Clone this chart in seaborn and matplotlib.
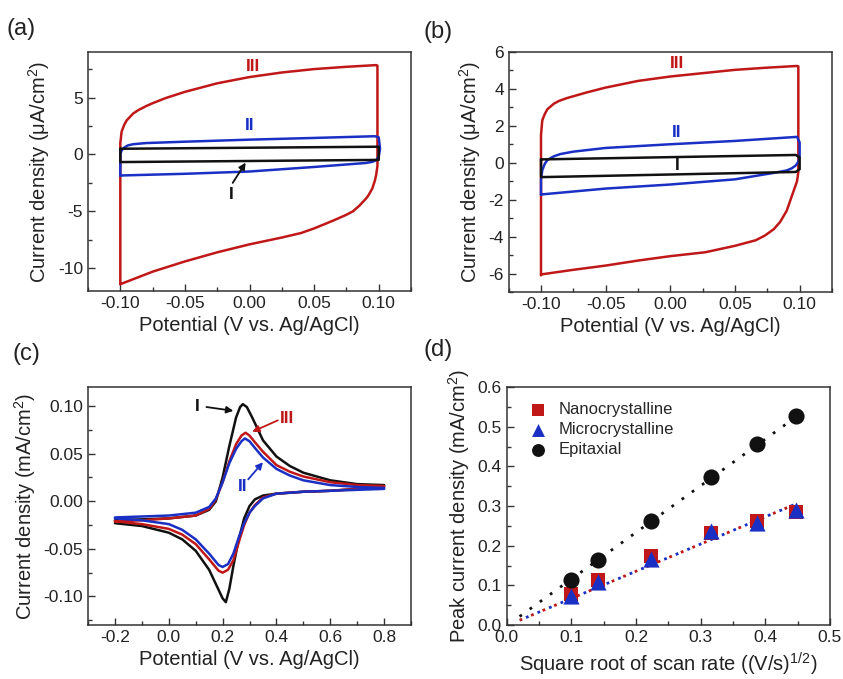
import numpy as np
import pandas as pd
import seaborn as sns
import matplotlib
matplotlib.use('Agg')
import matplotlib.pyplot as plt
from matplotlib.ticker import MultipleLocator, FormatStrFormatter

# ---- panel (a): CV loops, uA/cm2 ----
a1_x = [-0.1, 0.1, 0.1, -0.1, -0.1]
a1_y = [0.5, 0.68, -0.48, -0.67, 0.5]
a2_x = [-0.1, -0.1, -0.099, -0.097, -0.094, -0.09, -0.08, -0.05, 0.0, 0.05, 0.097, 0.1, 0.101, 0.1,
        0.098, 0.095, 0.09, 0.05, 0.0, -0.05, -0.1]
a2_y = [-1.85, 0.0, 0.35, 0.6, 0.8, 0.9, 1.0, 1.12, 1.3, 1.45, 1.6, 1.5, 0.5, -0.2,
        -0.5, -0.65, -0.75, -1.1, -1.5, -1.7, -1.85]
a3_x = [-0.1, -0.1, -0.099, -0.097, -0.095, -0.09, -0.086, -0.08, -0.075, -0.065, -0.05, -0.025,
        0.0, 0.025, 0.05, 0.075, 0.098, 0.099, 0.099, 0.098, 0.097, 0.095, 0.092, 0.09, 0.085,
        0.08, 0.075, 0.065, 0.05, 0.04, 0.025, 0.0, -0.025, -0.05, -0.075, -0.1]
a3_y = [-11.4, 1.0, 2.0, 2.6, 3.0, 3.6, 3.9, 4.25, 4.5, 4.95, 5.5, 6.25,
        6.8, 7.2, 7.5, 7.7, 7.85, 7.8, -1.0, -1.8, -2.3, -3.0, -3.6, -3.9, -4.5,
        -5.0, -5.3, -5.8, -6.5, -6.9, -7.3, -7.9, -8.6, -9.4, -10.3, -11.4]

# ---- panel (b) ----
b1_x = [-0.1, 0.097, 0.1, 0.1, 0.097, -0.1, -0.1]
b1_y = [0.18, 0.42, 0.3, -0.35, -0.5, -0.78, 0.18]
b2_x = [-0.1, -0.1, -0.099, -0.097, -0.095, -0.09, -0.085, -0.075, -0.05, 0.0, 0.05, 0.098, 0.1,
        0.1, 0.099, 0.097, 0.094, 0.09, 0.08, 0.05, 0.0, -0.05, -0.1]
b2_y = [-1.72, -0.9, -0.4, -0.05, 0.15, 0.35, 0.47, 0.6, 0.8, 1.0, 1.18, 1.4, 1.1,
        0.4, 0.05, -0.15, -0.3, -0.42, -0.55, -0.9, -1.18, -1.4, -1.72]
b3_x = [-0.1, -0.1, -0.099, -0.097, -0.095, -0.09, -0.086, -0.08, -0.075, -0.065, -0.05, -0.025,
        0.0, 0.025, 0.05, 0.075, 0.098, 0.099, 0.099, 0.098, 0.096, 0.094, 0.092, 0.09, 0.085,
        0.08, 0.073, 0.066, 0.05, 0.027, 0.0, -0.025, -0.05, -0.075, -0.1]
b3_y = [-6.1, 1.5, 2.3, 2.65, 2.9, 3.2, 3.35, 3.5, 3.6, 3.8, 4.07, 4.43,
        4.67, 4.85, 5.03, 5.15, 5.24, 5.22, -0.5, -1.0, -1.4, -1.8, -2.2, -2.6, -3.2,
        -3.6, -3.95, -4.2, -4.5, -4.85, -5.06, -5.3, -5.57, -5.8, -6.05]

# ---- panel (c): CVs in mA/cm2 (forward sweep then reverse) ----
c1_x = [-0.2, -0.1, 0.0, 0.1, 0.15, 0.175, 0.2, 0.225, 0.25, 0.265, 0.275, 0.29, 0.31, 0.35, 0.4,
        0.45, 0.5, 0.6, 0.7, 0.8,
        0.8, 0.7, 0.6, 0.5, 0.4, 0.35, 0.32, 0.3, 0.28, 0.26, 0.24, 0.225, 0.212, 0.2, 0.18, 0.15,
        0.1, 0.05, 0.0, -0.1, -0.2]
c1_y = [-0.020, -0.019, -0.018, -0.015, -0.009, 0.0, 0.025, 0.058, 0.088, 0.099, 0.102, 0.099,
        0.088, 0.064, 0.047, 0.037, 0.030, 0.022, 0.018, 0.017,
        0.016, 0.013, 0.011, 0.010, 0.008, 0.006, 0.002, -0.005, -0.018, -0.040, -0.068, -0.092,
        -0.106, -0.102, -0.090, -0.072, -0.052, -0.040, -0.033, -0.026, -0.023]
c2_x = [-0.2, -0.1, 0.0, 0.1, 0.15, 0.175, 0.2, 0.225, 0.25, 0.27, 0.283, 0.3, 0.32, 0.35, 0.4,
        0.45, 0.5, 0.6, 0.7, 0.8,
        0.8, 0.7, 0.6, 0.5, 0.4, 0.35, 0.32, 0.3, 0.28, 0.26, 0.24, 0.22, 0.2, 0.185, 0.15,
        0.1, 0.05, 0.0, -0.1, -0.2]
c2_y = [-0.017, -0.016, -0.015, -0.012, -0.006, 0.003, 0.02, 0.04, 0.055, 0.063, 0.066, 0.063,
        0.056, 0.046, 0.034, 0.027, 0.022, 0.017, 0.015, 0.014,
        0.013, 0.012, 0.011, 0.010, 0.008, 0.003, -0.005, -0.012, -0.023, -0.038, -0.055, -0.066,
        -0.069, -0.067, -0.055, -0.040, -0.030, -0.024, -0.020, -0.018]
c3_x = [-0.2, -0.1, 0.0, 0.1, 0.15, 0.175, 0.2, 0.225, 0.25, 0.27, 0.285, 0.3, 0.32, 0.35, 0.4,
        0.45, 0.5, 0.6, 0.7, 0.8,
        0.8, 0.7, 0.6, 0.5, 0.4, 0.35, 0.32, 0.3, 0.28, 0.26, 0.24, 0.22, 0.2, 0.185, 0.15,
        0.1, 0.05, 0.0, -0.1, -0.2]
c3_y = [-0.021, -0.020, -0.018, -0.015, -0.008, 0.002, 0.02, 0.042, 0.06, 0.069, 0.072, 0.069,
        0.062, 0.052, 0.038, 0.031, 0.026, 0.020, 0.017, 0.016,
        0.015, 0.013, 0.011, 0.010, 0.008, 0.004, -0.004, -0.012, -0.025, -0.043, -0.062, -0.072,
        -0.075, -0.073, -0.061, -0.045, -0.035, -0.029, -0.024, -0.021]

# ---- panel (d): peak current vs sqrt(scan rate) ----
sqrt_rate = [0.1, 0.1414, 0.2236, 0.3162, 0.3873, 0.4472]
nano_ip = [0.0775, 0.114, 0.173, 0.233, 0.263, 0.284]
micro_ip = [0.074, 0.108, 0.166, 0.237, 0.257, 0.29]
epi_ip = [0.114, 0.164, 0.263, 0.374, 0.456, 0.528]
fit_x = [0.02, 0.447]
fit_epi = [0.0215, 0.524]
fit_nano = [0.012, 0.305]

RED = '#c01818'
BLUE = '#1a2fc4'
BLK = '#111111'

sns.set_style('ticks')
plt.rcParams['font.family'] = ['Liberation Sans', 'DejaVu Sans']
plt.rcParams['mathtext.fontset'] = 'custom'
plt.rcParams['mathtext.rm'] = 'Liberation Sans'
plt.rcParams['mathtext.it'] = 'Liberation Sans'
plt.rcParams['axes.unicode_minus'] = False
plt.rcParams['axes.edgecolor'] = '#333333'
plt.rcParams['axes.linewidth'] = 1.1

fig = plt.figure(figsize=(8.43, 6.79), dpi=100)
ax_a = fig.add_axes([0.1044, 0.5714, 0.3832, 0.352])
ax_b = fig.add_axes([0.6034, 0.570, 0.3835, 0.3535])
ax_c = fig.add_axes([0.1044, 0.0795, 0.3832, 0.3505])
ax_d = fig.add_axes([0.601, 0.0795, 0.3835, 0.3505])

def loop(ax, x, y, color):
    sns.lineplot(x=x, y=y, sort=False, estimator=None, color=color, lw=1.8, ax=ax)

def style(ax, xmaj, ymaj, xfmt, yfmt, xlabel, ylabel):
    ax.xaxis.set_major_locator(MultipleLocator(xmaj))
    ax.xaxis.set_minor_locator(MultipleLocator(xmaj / 2))
    ax.yaxis.set_major_locator(MultipleLocator(ymaj))
    ax.yaxis.set_minor_locator(MultipleLocator(ymaj / 2))
    if xfmt:
        ax.xaxis.set_major_formatter(FormatStrFormatter(xfmt))
    if yfmt:
        ax.yaxis.set_major_formatter(FormatStrFormatter(yfmt))
    ax.tick_params(which='both', direction='in', top=False, right=False,
                   labelsize=12.5, colors='#333333', labelcolor='#222222')
    ax.tick_params(which='major', length=5, width=1)
    ax.tick_params(which='minor', length=3, width=1)
    ax.set_xlabel(xlabel, fontsize=14.5, color='#222222')
    ax.set_ylabel(ylabel, fontsize=14.5, color='#222222')

arr = dict(arrowstyle='-|>', lw=1.3, shrinkA=0, shrinkB=0, mutation_scale=10)
lab = dict(fontsize=12.5, fontweight='bold', ha='center', va='center')

# (a)
loop(ax_a, a3_x, a3_y, RED)
loop(ax_a, a2_x, a2_y, BLUE)
loop(ax_a, a1_x, a1_y, BLK)
ax_a.set_xlim(-0.125, 0.125)
ax_a.set_ylim(-12, 9)
style(ax_a, 0.05, 5, '%.2f', None, 'Potential (V vs. Ag/AgCl)', 'Current density (μA/cm$^2$)')
ax_a.text(0.003, 7.75, 'III', color=RED, **lab)
ax_a.text(0.0, 2.5, 'II', color=BLUE, **lab)
ax_a.text(-0.014, -3.5, 'I', color=BLK, **lab)
ax_a.annotate('', xy=(-0.003, -0.72), xytext=(-0.013, -2.5), arrowprops=dict(arr, color=BLK))

# (b)
loop(ax_b, b3_x, b3_y, RED)
loop(ax_b, b2_x, b2_y, BLUE)
loop(ax_b, b1_x, b1_y, BLK)
ax_b.set_xlim(-0.125, 0.125)
ax_b.set_ylim(-7, 6)
style(ax_b, 0.05, 2, '%.2f', None, 'Potential (V vs. Ag/AgCl)', 'Current density (μA/cm$^2$)')
ax_b.text(0.005, 5.35, 'III', color=RED, **lab)
ax_b.text(0.005, 1.63, 'II', color=BLUE, **lab)
ax_b.text(0.005, -0.13, 'I', color=BLK, **lab)

# (c)
loop(ax_c, c1_x, c1_y, BLK)
loop(ax_c, c3_x, c3_y, RED)
loop(ax_c, c2_x, c2_y, BLUE)
ax_c.set_xlim(-0.3, 0.9)
ax_c.set_ylim(-0.13, 0.12)
style(ax_c, 0.2, 0.05, '%.1f', '%.2f', 'Potential (V vs. Ag/AgCl)', 'Current density (mA/cm$^2$)')
ax_c.text(0.106, 0.1, 'I', color=BLK, **lab)
ax_c.annotate('', xy=(0.24, 0.095), xytext=(0.14, 0.099), arrowprops=dict(arr, color=BLK))
ax_c.text(0.44, 0.087, 'III', color=RED, **lab)
ax_c.annotate('', xy=(0.31, 0.073), xytext=(0.405, 0.085), arrowprops=dict(arr, color=RED))
ax_c.text(0.276, 0.0157, 'II', color=BLUE, **lab)
ax_c.annotate('', xy=(0.35, 0.041), xytext=(0.295, 0.023), arrowprops=dict(arr, color=BLUE))

# (d)
dot = (0, (1, 3.5))
ax_d.plot(fit_x, fit_epi, color=BLK, lw=2, linestyle=dot)
ax_d.plot(fit_x, fit_nano, color=RED, lw=2, linestyle=dot)
ax_d.plot(fit_x, fit_nano, color=BLUE, lw=2, linestyle=(2, (1, 3.5)))
sns.scatterplot(x=sqrt_rate, y=nano_ip, marker='s', s=105, color=RED, linewidth=0,
                label='Nanocrystalline', ax=ax_d, zorder=3)
sns.scatterplot(x=sqrt_rate, y=micro_ip, marker='^', s=135, color=BLUE, linewidth=0,
                label='Microcrystalline', ax=ax_d, zorder=3)
sns.scatterplot(x=sqrt_rate, y=epi_ip, marker='o', s=135, color=BLK, linewidth=0,
                label='Epitaxial', ax=ax_d, zorder=3)
ax_d.set_xlim(0, 0.5)
ax_d.set_ylim(0, 0.6)
style(ax_d, 0.1, 0.1, '%.1f', '%.1f', 'Square root of scan rate ((V/s)$^{1/2}$)',
      'Peak current density (mA/cm$^2$)')
ax_d.legend(loc='upper left', frameon=False, fontsize=12, markerscale=0.8,
            handletextpad=0.2, labelspacing=0.3, borderaxespad=0.5)

for t, x, y in [('(a)', 0.008, 0.958), ('(b)', 0.502, 0.953), ('(c)', 0.015, 0.478), ('(d)', 0.502, 0.485)]:
    fig.text(x, y, t, fontsize=17, ha='left', va='center', color='#222222')

fig.savefig('out.png', dpi=100)
